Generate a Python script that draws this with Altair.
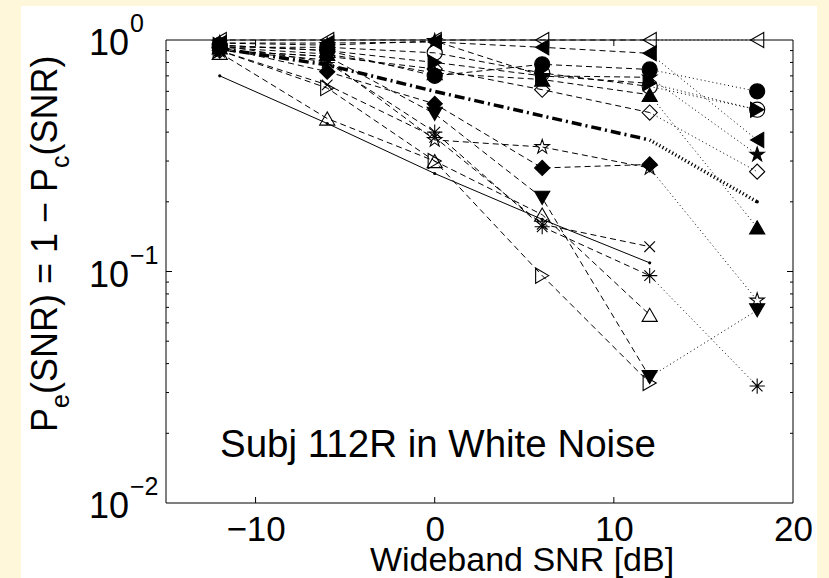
import altair as alt
import pandas as pd

# ---------------- data ----------------
snr_db = [-12, -6, 0, 6, 12, 18]

open_left_tri    = [1.00, 1.00, 1.00, 1.00, 1.00, 1.00]
filled_left_tri  = [0.97, 0.97, 0.98, 0.93, 0.876, 0.37]
filled_circle    = [0.95, 0.90, 0.70, 0.785, 0.746, 0.60]
open_circle      = [0.93, 0.93, 0.88, 0.72, 0.63, 0.50]
filled_right_tri = [0.95, 0.90, 0.80, 0.70, 0.65, 0.50]
filled_star      = [0.97, 0.95, 0.99, 0.70, 0.69, 0.32]
open_diamond     = [0.90, 0.85, 0.75, 0.61, 0.486, 0.27]
filled_up_tri    = [0.93, 0.87, 0.72, 0.675, 0.58, 0.155]
open_star        = [0.90, 0.82, 0.37, 0.345, 0.28, 0.075]
filled_down_tri  = [0.90, 0.85, 0.48, 0.208, 0.035, 0.068]
asterisk         = [0.95, 0.80, 0.40, 0.156, 0.096, 0.032]
filled_diamond   = [0.93, 0.73, 0.53, 0.28, 0.29, None]
x_mark           = [0.90, 0.64, 0.38, 0.16, 0.128, None]
open_up_tri      = [0.88, 0.458, 0.30, 0.176, 0.065, None]
open_right_tri   = [0.90, 0.62, 0.30, 0.096, 0.033, None]

model_fit = [0.70, 0.436, 0.265, 0.168, 0.109]          # solid line, -12..12
average   = [0.92, 0.78, 0.60, 0.47, 0.37, 0.20]        # thick dash-dot

x_tick_values = [-10, 0, 10, 20]
y_major = [1.0, 0.1, 0.01]
y_exponents = ["0", "\u22121", "\u22122"]
annotation = "Subj 112R in White Noise"
x_title = "Wideband SNR [dB]"

# ---------------- styles ----------------
STAR = ("M0,-1L0.225,-0.309L0.951,-0.309L0.363,0.118L0.588,0.809L0,0.382"
        "L-0.588,0.809L-0.363,0.118L-0.951,-0.309L-0.225,-0.309Z")
ASTER = "M0,-1L0,1M-1,0L1,0M-0.7,-0.7L0.7,0.7M-0.7,0.7L0.7,-0.7"
XMARK = "M-0.7,-0.7L0.7,0.7M-0.7,0.7L0.7,-0.7"

series = [
    ("open_left_tri", open_left_tri, "triangle-left", "transparent"),
    ("filled_left_tri", filled_left_tri, "triangle-left", "black"),
    ("filled_circle", filled_circle, "circle", "black"),
    ("open_circle", open_circle, "circle", "transparent"),
    ("filled_right_tri", filled_right_tri, "triangle-right", "black"),
    ("filled_star", filled_star, STAR, "black"),
    ("open_diamond", open_diamond, "diamond", "transparent"),
    ("filled_up_tri", filled_up_tri, "triangle-up", "black"),
    ("open_star", open_star, STAR, "transparent"),
    ("filled_down_tri", filled_down_tri, "triangle-down", "black"),
    ("asterisk", asterisk, ASTER, "transparent"),
    ("filled_diamond", filled_diamond, "diamond", "black"),
    ("x_mark", x_mark, XMARK, "transparent"),
    ("open_up_tri", open_up_tri, "triangle-up", "transparent"),
    ("open_right_tri", open_right_tri, "triangle-right", "transparent"),
]
names = [s[0] for s in series]
shapes = [s[2] for s in series]
fills = [s[3] for s in series]

rows = []
for name, vals, _, _ in series:
    for x, v in zip(snr_db, vals):
        if v is not None:
            rows.append({"name": name, "snr": x, "pe": v})
pts = pd.DataFrame(rows)
dashed = pts[pts.snr <= 12]
have18 = set(pts[pts.snr == 18].name) & set(pts[pts.snr == 12].name)
dotted = pts[(pts.snr >= 12) & pts.name.isin(have18)]

model_df = pd.DataFrame({"snr": snr_db[:len(model_fit)], "pe": model_fit})
avg_df = pd.DataFrame({"snr": snr_db, "pe": average})
avg_dash = avg_df[avg_df.snr <= 12]
avg_dot = avg_df[avg_df.snr >= 12]

W, H = 627, 463
FONT = "Liberation Sans"
xs = alt.Scale(domain=[-15, 20], nice=False, zero=False)
ys = alt.Scale(type="log", domain=[0.01, 1], nice=False)
XAX = alt.Axis(values=x_tick_values, title=None, ticks=False, domain=False, grid=False,
               labelFont=FONT, labelFontSize=35, labelColor="black", labelPadding=9,
               labelFlush=False, labelOverlap=False, zindex=1)


def X(f="snr"):
    return alt.X(f"{f}:Q", scale=xs, axis=XAX)


def Y(f="pe"):
    return alt.Y(f"{f}:Q", scale=ys, axis=None)


one = pd.DataFrame({"a": [0]})

panel = alt.Chart(one).mark_rect(color="white").encode(
    x=alt.value(-145), x2=alt.value(651), y=alt.value(-34), y2=alt.value(560))

minor_vals = [k * 10.0 ** e for e in (-2, -1) for k in range(2, 10)]
minor_df = pd.DataFrame({"pe": minor_vals})
major_df = pd.DataFrame({"pe": [0.1]})
xt_df = pd.DataFrame({"snr": [-10, 0, 10]})

ticks = [
    alt.Chart(minor_df).mark_rule(color="black", strokeWidth=1).encode(y=Y(), x=alt.value(0), x2=alt.value(3)),
    alt.Chart(minor_df).mark_rule(color="black", strokeWidth=1).encode(y=Y(), x=alt.value(W), x2=alt.value(W - 3)),
    alt.Chart(major_df).mark_rule(color="black", strokeWidth=1).encode(y=Y(), x=alt.value(0), x2=alt.value(6)),
    alt.Chart(major_df).mark_rule(color="black", strokeWidth=1).encode(y=Y(), x=alt.value(W), x2=alt.value(W - 6)),
    alt.Chart(xt_df).mark_rule(color="black", strokeWidth=1).encode(x=X(), y=alt.value(H), y2=alt.value(H - 6)),
    alt.Chart(xt_df).mark_rule(color="black", strokeWidth=1).encode(x=X(), y=alt.value(0), y2=alt.value(6)),
]

dash_lines = alt.Chart(dashed).mark_line(color="black", strokeWidth=1, strokeDash=[6, 4]).encode(
    x=X(), y=Y(), detail="name:N")
dot_lines = alt.Chart(dotted).mark_line(color="black", strokeWidth=1, strokeDash=[1, 3]).encode(
    x=X(), y=Y(), detail="name:N")
model_line = alt.Chart(model_df).mark_line(color="black", strokeWidth=1).encode(x=X(), y=Y())
model_pts = alt.Chart(model_df).mark_circle(color="black", size=10, opacity=1).encode(x=X(), y=Y())
avg_line = alt.Chart(avg_dash).mark_line(color="black", strokeWidth=3.5, strokeDash=[10, 4, 2, 4]).encode(x=X(), y=Y())
avg_dotl = alt.Chart(avg_dot).mark_line(color="black", strokeWidth=3.5, strokeDash=[1.2, 2.5]).encode(x=X(), y=Y())
avg_pts = alt.Chart(avg_dot[avg_dot.snr == 18]).mark_circle(color="black", size=12, opacity=1).encode(x=X(), y=Y())

markers = alt.Chart(pts).mark_point(stroke="black", strokeWidth=1.1, opacity=1, fillOpacity=1, size=230).encode(
    x=X(), y=Y(),
    shape=alt.Shape("name:N", scale=alt.Scale(domain=names, range=shapes), legend=None),
    fill=alt.Fill("name:N", scale=alt.Scale(domain=names, range=fills), legend=None),
)

frame = alt.Chart(one).mark_rect(filled=False, color="black", strokeWidth=1).encode(
    x=alt.value(0), x2=alt.value(W), y=alt.value(0), y2=alt.value(H))

ylab_df = pd.DataFrame({"pe": y_major, "exp": y_exponents})
ylab10 = alt.Chart(ylab_df).mark_text(text="10", font=FONT, fontSize=36, align="right",
                                      baseline="middle", dy=4, color="black").encode(
    y=Y(), x=alt.value(-37))
ylabexp = alt.Chart(ylab_df).mark_text(font=FONT, fontSize=25, align="left",
                                       baseline="alphabetic", dy=-8, color="black").encode(
    y=Y(), x=alt.value(-36), text="exp:N")

# rotated y-axis title with subscripts
yt_main_x, yt_sub_x = -109, -97
y0 = 392
segs = [("P", 36, yt_main_x, y0), ("e", 25, yt_sub_x, y0 - 24.0),
        ("(SNR) = 1 \u2212 P", 36, yt_main_x, y0 - 37.9), ("c", 25, yt_sub_x, y0 - 264.0),
        ("(SNR)", 36, yt_main_x, y0 - 276.5)]
ytitle = [alt.Chart(one).mark_text(text=t, font=FONT, fontSize=fs, angle=270, align="left",
                                   baseline="alphabetic", color="black").encode(
    x=alt.value(px), y=alt.value(py)) for t, fs, px, py in segs]

xtitle = alt.Chart(one).mark_text(text=x_title, font=FONT, fontSize=34, align="center",
                                  baseline="alphabetic", color="black").encode(
    x=alt.value(356), y=alt.value(531))

note = alt.Chart(one).mark_text(text=annotation, font=FONT, fontSize=38.5, align="left",
                                baseline="alphabetic", color="black").encode(
    x=alt.value(54), y=alt.value(417))

chart = alt.layer(
    panel, *ticks, dash_lines, dot_lines, model_line, model_pts, avg_line, avg_dotl, avg_pts,
    markers, frame, ylab10, ylabexp, *ytitle, xtitle, note
).properties(
    width=W, height=H, background="#FFF7D9",
    padding={"left": 166, "top": 40, "right": 36, "bottom": 75},
    autosize=alt.AutoSizeParams(type="none"),
).configure_view(strokeWidth=0)

chart.save("out.html", embed_options={"renderer": "svg", "actions": False})
